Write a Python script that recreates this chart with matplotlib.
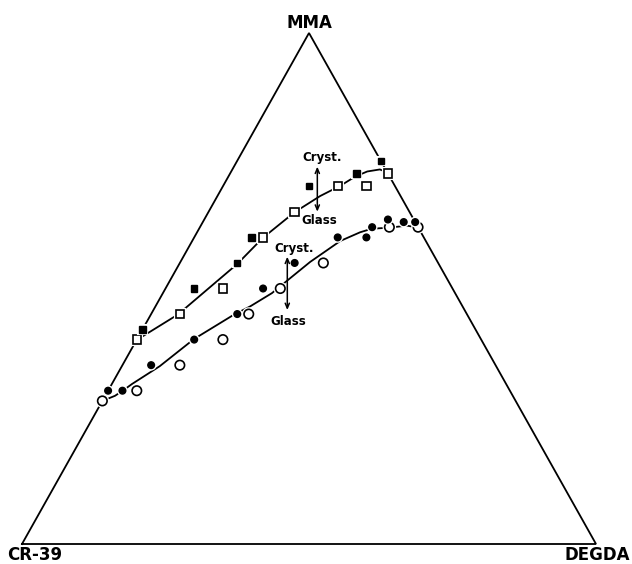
import numpy as np
import matplotlib
matplotlib.use("Agg")
import matplotlib.pyplot as plt
import matplotlib.patheffects as pe

# compositions in % (CR-39 = 100 - MMA - DEGDA)
sq_open_mma = [40, 45, 50, 60, 65, 70, 70, 72.5]
sq_open_degda = [0, 5, 10, 12, 15, 20, 25, 27.5]
sq_fill_mma = [42, 50, 55, 60, 70, 72.5, 75]
sq_fill_degda = [0, 5, 10, 10, 15, 22, 25]
ci_open_mma = [28, 30, 35, 40, 45, 50, 55, 62, 62]
ci_open_degda = [0, 5, 10, 15, 17, 20, 25, 33, 38]
ci_fill_mma = [30, 30, 35, 40, 45, 50, 55, 60, 60, 62, 63.5, 63, 63]
ci_fill_degda = [0, 2.5, 5, 10, 15, 17, 20, 25, 30, 30, 32, 35, 37]

# hand-drawn boundary curves
upper_mma = [39.9, 44.9, 54.8, 59.9, 64.9, 68.1, 70.1, 71.9, 72.9, 73.3, 72.7]
upper_degda = [0, 4.7, 10.1, 12.0, 15.0, 17.9, 20.4, 22.1, 23.7, 25.7, 27.3]
lower_mma = [28.0, 29.0, 30.2, 31.3, 34.8, 40.1, 44.8, 46.5, 49.1, 52.0, 55.2,
             57.5, 59.3, 61.0, 61.7, 61.9, 62.3, 61.9]
lower_degda = [0, 1.7, 2.7, 3.5, 6.6, 9.9, 14.4, 16.5, 19.0, 20.7, 22.6,
               24.4, 25.8, 28.4, 30.1, 33.0, 35.9, 38.1]


def tern(mma, degda):
    mma = np.asarray(mma) / 100.0
    degda = np.asarray(degda) / 100.0
    return degda + mma / 2.0, mma


fig = plt.figure(figsize=(6.32, 5.64), dpi=100)
ax = fig.add_axes([22 / 632, 20 / 564, 574 / 632, 511 / 564])
ax.set_xlim(0, 1)
ax.set_ylim(0, 1)
ax.axis("off")

# triangle
ax.plot([0, 1, 0.5, 0], [0, 0, 1, 0], color="black", lw=1.3, clip_on=False,
        solid_joinstyle="miter")

x, y = tern(upper_mma, upper_degda)
ax.plot(x, y, color="black", lw=1.3)
x, y = tern(lower_mma, lower_degda)
ax.plot(x, y, color="black", lw=1.3)

halo = [pe.Stroke(linewidth=3.0, foreground="white"), pe.Normal()]

x, y = tern(sq_open_mma, sq_open_degda)
ax.plot(x, y, "s", ms=6, mfc="white", mec="black", mew=1.2, ls="none",
        path_effects=halo, clip_on=False)
x, y = tern(sq_fill_mma, sq_fill_degda)
ax.plot(x, y, "s", ms=4.6, mfc="black", mec="black", ls="none",
        path_effects=halo, clip_on=False)
x, y = tern(ci_open_mma, ci_open_degda)
ax.plot(x, y, "o", ms=6.8, mfc="white", mec="black", mew=1.2, ls="none",
        path_effects=halo, clip_on=False)
x, y = tern(ci_fill_mma, ci_fill_degda)
ax.plot(x, y, "o", ms=4.8, mfc="black", mec="black", ls="none",
        path_effects=halo, clip_on=False)

# crystal / glass arrows
arrow = dict(arrowstyle="<->,head_length=0.35,head_width=0.15", color="black", lw=1.1,
             shrinkA=0, shrinkB=0)
ax.annotate("", xy=(0.5145, 0.7384), xytext=(0.5145, 0.6503), arrowprops=arrow)
ax.annotate("", xy=(0.4622, 0.5622), xytext=(0.4622, 0.4579), arrowprops=arrow)

small = dict(fontsize=8.5, fontweight="bold", ha="center", va="center")
ax.text(0.522, 0.757, "Cryst.", **small)
ax.text(0.5186, 0.633, "Glass", **small)
ax.text(0.4739, 0.5787, "Cryst.", **small)
ax.text(0.4634, 0.435, "Glass", **small)

big = dict(fontsize=12, fontweight="bold", va="center")
ax.text(0.5, 1.0205, "MMA", ha="center", **big)
ax.text(-0.0261, -0.0215, "CR-39", ha="left", **big)
ax.text(1.059, -0.0215, "DEGDA", ha="right", **big)

plt.savefig("out.png", dpi=100)
plt.close()
